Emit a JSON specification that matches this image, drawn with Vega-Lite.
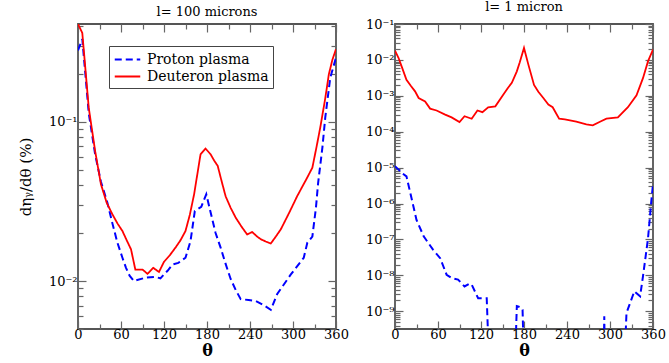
{
  "$schema": "https://vega.github.io/schema/vega-lite/v6.json",
  "padding": {"left": 17, "top": 0, "right": 0, "bottom": 0},
  "datasets": {
    "left": [
      {"theta": 0, "value": 0.28, "series": "Proton plasma"},
      {"theta": 6, "value": 0.33, "series": "Proton plasma"},
      {"theta": 15, "value": 0.113, "series": "Proton plasma"},
      {"theta": 24, "value": 0.062, "series": "Proton plasma"},
      {"theta": 32, "value": 0.042, "series": "Proton plasma"},
      {"theta": 41, "value": 0.031, "series": "Proton plasma"},
      {"theta": 48, "value": 0.023, "series": "Proton plasma"},
      {"theta": 55, "value": 0.0174, "series": "Proton plasma"},
      {"theta": 62, "value": 0.014, "series": "Proton plasma"},
      {"theta": 67, "value": 0.0121, "series": "Proton plasma"},
      {"theta": 72, "value": 0.0108, "series": "Proton plasma"},
      {"theta": 78, "value": 0.0100, "series": "Proton plasma"},
      {"theta": 94, "value": 0.0105, "series": "Proton plasma"},
      {"theta": 108, "value": 0.0106, "series": "Proton plasma"},
      {"theta": 115, "value": 0.0104, "series": "Proton plasma"},
      {"theta": 120, "value": 0.011, "series": "Proton plasma"},
      {"theta": 125, "value": 0.0116, "series": "Proton plasma"},
      {"theta": 132, "value": 0.0127, "series": "Proton plasma"},
      {"theta": 140, "value": 0.013, "series": "Proton plasma"},
      {"theta": 150, "value": 0.014, "series": "Proton plasma"},
      {"theta": 157, "value": 0.0178, "series": "Proton plasma"},
      {"theta": 163, "value": 0.0275, "series": "Proton plasma"},
      {"theta": 172, "value": 0.0292, "series": "Proton plasma"},
      {"theta": 179, "value": 0.035, "series": "Proton plasma"},
      {"theta": 185, "value": 0.027, "series": "Proton plasma"},
      {"theta": 192, "value": 0.02, "series": "Proton plasma"},
      {"theta": 199, "value": 0.0162, "series": "Proton plasma"},
      {"theta": 206, "value": 0.0128, "series": "Proton plasma"},
      {"theta": 213, "value": 0.0103, "series": "Proton plasma"},
      {"theta": 220, "value": 0.0088, "series": "Proton plasma"},
      {"theta": 227, "value": 0.0077, "series": "Proton plasma"},
      {"theta": 238, "value": 0.0076, "series": "Proton plasma"},
      {"theta": 248, "value": 0.0075, "series": "Proton plasma"},
      {"theta": 258, "value": 0.0071, "series": "Proton plasma"},
      {"theta": 269, "value": 0.0066, "series": "Proton plasma"},
      {"theta": 278, "value": 0.0083, "series": "Proton plasma"},
      {"theta": 297, "value": 0.011, "series": "Proton plasma"},
      {"theta": 315, "value": 0.014, "series": "Proton plasma"},
      {"theta": 320, "value": 0.0174, "series": "Proton plasma"},
      {"theta": 327, "value": 0.019, "series": "Proton plasma"},
      {"theta": 332, "value": 0.0288, "series": "Proton plasma"},
      {"theta": 335, "value": 0.041, "series": "Proton plasma"},
      {"theta": 341, "value": 0.0687, "series": "Proton plasma"},
      {"theta": 345, "value": 0.106, "series": "Proton plasma"},
      {"theta": 352, "value": 0.189, "series": "Proton plasma"},
      {"theta": 360, "value": 0.252, "series": "Proton plasma"},
      {"theta": 0, "value": 0.41, "series": "Deuteron plasma"},
      {"theta": 6, "value": 0.36, "series": "Deuteron plasma"},
      {"theta": 15, "value": 0.122, "series": "Deuteron plasma"},
      {"theta": 24, "value": 0.065, "series": "Deuteron plasma"},
      {"theta": 32, "value": 0.0405, "series": "Deuteron plasma"},
      {"theta": 40, "value": 0.031, "series": "Deuteron plasma"},
      {"theta": 48, "value": 0.0262, "series": "Deuteron plasma"},
      {"theta": 55, "value": 0.023, "series": "Deuteron plasma"},
      {"theta": 62, "value": 0.0206, "series": "Deuteron plasma"},
      {"theta": 68, "value": 0.018, "series": "Deuteron plasma"},
      {"theta": 74, "value": 0.0158, "series": "Deuteron plasma"},
      {"theta": 80, "value": 0.0118, "series": "Deuteron plasma"},
      {"theta": 90, "value": 0.0118, "series": "Deuteron plasma"},
      {"theta": 97, "value": 0.0111, "series": "Deuteron plasma"},
      {"theta": 105, "value": 0.0121, "series": "Deuteron plasma"},
      {"theta": 113, "value": 0.0114, "series": "Deuteron plasma"},
      {"theta": 120, "value": 0.0132, "series": "Deuteron plasma"},
      {"theta": 128, "value": 0.0145, "series": "Deuteron plasma"},
      {"theta": 136, "value": 0.0162, "series": "Deuteron plasma"},
      {"theta": 143, "value": 0.018, "series": "Deuteron plasma"},
      {"theta": 150, "value": 0.0206, "series": "Deuteron plasma"},
      {"theta": 156, "value": 0.026, "series": "Deuteron plasma"},
      {"theta": 162, "value": 0.035, "series": "Deuteron plasma"},
      {"theta": 171, "value": 0.0624, "series": "Deuteron plasma"},
      {"theta": 178, "value": 0.0678, "series": "Deuteron plasma"},
      {"theta": 185, "value": 0.0624, "series": "Deuteron plasma"},
      {"theta": 190, "value": 0.057, "series": "Deuteron plasma"},
      {"theta": 195, "value": 0.0527, "series": "Deuteron plasma"},
      {"theta": 200, "value": 0.043, "series": "Deuteron plasma"},
      {"theta": 206, "value": 0.034, "series": "Deuteron plasma"},
      {"theta": 213, "value": 0.0288, "series": "Deuteron plasma"},
      {"theta": 220, "value": 0.025, "series": "Deuteron plasma"},
      {"theta": 228, "value": 0.022, "series": "Deuteron plasma"},
      {"theta": 236, "value": 0.0196, "series": "Deuteron plasma"},
      {"theta": 243, "value": 0.0203, "series": "Deuteron plasma"},
      {"theta": 250, "value": 0.019, "series": "Deuteron plasma"},
      {"theta": 255, "value": 0.0183, "series": "Deuteron plasma"},
      {"theta": 262, "value": 0.0177, "series": "Deuteron plasma"},
      {"theta": 269, "value": 0.0172, "series": "Deuteron plasma"},
      {"theta": 276, "value": 0.019, "series": "Deuteron plasma"},
      {"theta": 283, "value": 0.0211, "series": "Deuteron plasma"},
      {"theta": 295, "value": 0.027, "series": "Deuteron plasma"},
      {"theta": 306, "value": 0.0342, "series": "Deuteron plasma"},
      {"theta": 318, "value": 0.043, "series": "Deuteron plasma"},
      {"theta": 327, "value": 0.0514, "series": "Deuteron plasma"},
      {"theta": 333, "value": 0.07, "series": "Deuteron plasma"},
      {"theta": 338, "value": 0.0917, "series": "Deuteron plasma"},
      {"theta": 345, "value": 0.14, "series": "Deuteron plasma"},
      {"theta": 350, "value": 0.198, "series": "Deuteron plasma"},
      {"theta": 355, "value": 0.245, "series": "Deuteron plasma"},
      {"theta": 360, "value": 0.285, "series": "Deuteron plasma"}
    ],
    "right": [
      {"theta": 0, "value": 1.1e-5, "series": "Proton plasma"},
      {"theta": 5, "value": 8.8e-6, "series": "Proton plasma"},
      {"theta": 10, "value": 7e-6, "series": "Proton plasma"},
      {"theta": 16, "value": 5.7e-6, "series": "Proton plasma"},
      {"theta": 23, "value": 1.42e-6, "series": "Proton plasma"},
      {"theta": 30, "value": 3.5e-7, "series": "Proton plasma"},
      {"theta": 40, "value": 1.22e-7, "series": "Proton plasma"},
      {"theta": 53, "value": 5.2e-8, "series": "Proton plasma"},
      {"theta": 63, "value": 3.0e-8, "series": "Proton plasma"},
      {"theta": 72, "value": 1.04e-8, "series": "Proton plasma"},
      {"theta": 79, "value": 8.4e-9, "series": "Proton plasma"},
      {"theta": 88, "value": 7.6e-9, "series": "Proton plasma"},
      {"theta": 97, "value": 4.9e-9, "series": "Proton plasma"},
      {"theta": 104, "value": 5.9e-9, "series": "Proton plasma"},
      {"theta": 107, "value": 5.5e-9, "series": "Proton plasma"},
      {"theta": 116, "value": 2.3e-9, "series": "Proton plasma"},
      {"theta": 128, "value": 2.3e-9, "series": "Proton plasma"},
      {"theta": 134, "value": 1e-12, "series": "Proton plasma"},
      {"theta": 165, "value": 1e-12, "series": "Proton plasma"},
      {"theta": 170, "value": 1.4e-9, "series": "Proton plasma"},
      {"theta": 175, "value": 1.3e-9, "series": "Proton plasma"},
      {"theta": 178, "value": 1.1e-9, "series": "Proton plasma"},
      {"theta": 182, "value": 1e-12, "series": "Proton plasma"},
      {"theta": 290, "value": 1e-12, "series": "Proton plasma"},
      {"theta": 292, "value": 7.2e-10, "series": "Proton plasma"},
      {"theta": 294, "value": 1e-12, "series": "Proton plasma"},
      {"theta": 317, "value": 1e-12, "series": "Proton plasma"},
      {"theta": 323, "value": 8.9e-10, "series": "Proton plasma"},
      {"theta": 334, "value": 3.6e-9, "series": "Proton plasma"},
      {"theta": 342, "value": 2.6e-9, "series": "Proton plasma"},
      {"theta": 346, "value": 9.3e-9, "series": "Proton plasma"},
      {"theta": 353, "value": 1.05e-7, "series": "Proton plasma"},
      {"theta": 357.6, "value": 1.15e-6, "series": "Proton plasma"},
      {"theta": 360, "value": 3.4e-6, "series": "Proton plasma"},
      {"theta": 0, "value": 0.018, "series": "Deuteron plasma"},
      {"theta": 5, "value": 0.0113, "series": "Deuteron plasma"},
      {"theta": 10, "value": 0.006, "series": "Deuteron plasma"},
      {"theta": 16, "value": 0.0028, "series": "Deuteron plasma"},
      {"theta": 22, "value": 0.0019, "series": "Deuteron plasma"},
      {"theta": 28, "value": 0.00133, "series": "Deuteron plasma"},
      {"theta": 33, "value": 0.00087, "series": "Deuteron plasma"},
      {"theta": 42, "value": 0.0007, "series": "Deuteron plasma"},
      {"theta": 49, "value": 0.00044, "series": "Deuteron plasma"},
      {"theta": 58, "value": 0.00039, "series": "Deuteron plasma"},
      {"theta": 70, "value": 0.0003, "series": "Deuteron plasma"},
      {"theta": 79, "value": 0.00025, "series": "Deuteron plasma"},
      {"theta": 90, "value": 0.000186, "series": "Deuteron plasma"},
      {"theta": 97, "value": 0.00027, "series": "Deuteron plasma"},
      {"theta": 107, "value": 0.00023, "series": "Deuteron plasma"},
      {"theta": 115, "value": 0.00039, "series": "Deuteron plasma"},
      {"theta": 122, "value": 0.00035, "series": "Deuteron plasma"},
      {"theta": 130, "value": 0.00048, "series": "Deuteron plasma"},
      {"theta": 140, "value": 0.00051, "series": "Deuteron plasma"},
      {"theta": 151, "value": 0.00107, "series": "Deuteron plasma"},
      {"theta": 157, "value": 0.0016, "series": "Deuteron plasma"},
      {"theta": 163, "value": 0.0023, "series": "Deuteron plasma"},
      {"theta": 170, "value": 0.0048, "series": "Deuteron plasma"},
      {"theta": 174, "value": 0.0085, "series": "Deuteron plasma"},
      {"theta": 180, "value": 0.0215, "series": "Deuteron plasma"},
      {"theta": 186, "value": 0.0075, "series": "Deuteron plasma"},
      {"theta": 194, "value": 0.002, "series": "Deuteron plasma"},
      {"theta": 200, "value": 0.0013, "series": "Deuteron plasma"},
      {"theta": 207, "value": 0.00087, "series": "Deuteron plasma"},
      {"theta": 214, "value": 0.00057, "series": "Deuteron plasma"},
      {"theta": 220, "value": 0.00048, "series": "Deuteron plasma"},
      {"theta": 229, "value": 0.00023, "series": "Deuteron plasma"},
      {"theta": 237, "value": 0.00022, "series": "Deuteron plasma"},
      {"theta": 253, "value": 0.00019, "series": "Deuteron plasma"},
      {"theta": 267, "value": 0.00016, "series": "Deuteron plasma"},
      {"theta": 276, "value": 0.00015, "series": "Deuteron plasma"},
      {"theta": 286, "value": 0.00019, "series": "Deuteron plasma"},
      {"theta": 295, "value": 0.00023, "series": "Deuteron plasma"},
      {"theta": 311, "value": 0.00025, "series": "Deuteron plasma"},
      {"theta": 325, "value": 0.00048, "series": "Deuteron plasma"},
      {"theta": 337, "value": 0.00103, "series": "Deuteron plasma"},
      {"theta": 346, "value": 0.0031, "series": "Deuteron plasma"},
      {"theta": 353, "value": 0.0091, "series": "Deuteron plasma"},
      {"theta": 360, "value": 0.0194, "series": "Deuteron plasma"}
    ]
  },
  "config": {
    "font": "DejaVu Serif",
    "view": {"stroke": "#555555", "strokeWidth": 1.8},
    "axis": {
      "labelFont": "DejaVu Serif",
      "labelFontSize": 13,
      "labelColor": "#000000",
      "titleFont": "DejaVu Serif",
      "titleColor": "#000000",
      "titleFontWeight": "normal",
      "domain": false,
      "grid": false,
      "tickColor": "#666666",
      "tickWidth": 1.2
    },
    "title": {"font": "DejaVu Serif", "fontSize": 13, "fontWeight": "normal", "offset": 4},
    "legend": {
      "labelFont": "DejaVu Serif",
      "labelFontSize": 14,
      "labelColor": "#000000",
      "symbolType": "M-1.5,0H1.5",
      "symbolSize": 289,
      "symbolStrokeWidth": 2,
      "symbolOffset": 5,
      "labelOffset": 10,
      "strokeColor": "#444444",
      "padding": 4,
      "rowPadding": 0
    }
  },
  "spacing": 14,
  "resolve": {"legend": {"color": "independent", "strokeDash": "independent"}},
  "hconcat": [
    {
      "width": 258,
      "height": 305,
      "title": "l= 100 microns",
      "data": {"name": "left"},
      "layer": [
        {
          "transform": [{"filter": "datum.series == 'Proton plasma'"}],
          "mark": {"type": "line", "strokeWidth": 2, "clip": true},
          "encoding": {
            "x": {
              "field": "theta", "type": "quantitative",
              "scale": {"domain": [0, 360], "nice": false, "zero": false},
              "axis": {
                "orient": "bottom",
                "title": "θ", "titleFontSize": 16, "titleFontWeight": "bold", "titlePadding": 1,
                "values": [0, 30, 60, 90, 120, 150, 180, 210, 240, 270, 300, 330, 360],
                "labelExpr": "datum.value % 60 == 0 ? datum.label : ''",
                "tickSize": {"condition": {"test": "datum.value % 60 == 0", "value": -8}, "value": -5},
                "labelPadding": 7,
                "labelFlush": false
              }
            },
            "y": {
              "field": "value", "type": "quantitative",
              "scale": {"type": "log", "domain": [0.005, 0.41], "nice": false},
              "axis": {
                "orient": "left",
                "title": "dηᵧ/dθ (%)", "titleFontSize": 15, "titlePadding": 15,
                "values": [0.005, 0.006, 0.007, 0.008, 0.009, 0.01, 0.02, 0.03, 0.04, 0.05, 0.06, 0.07, 0.08, 0.09, 0.1, 0.2, 0.3, 0.4],
                "labelExpr": "abs(log(datum.value)/LN10 - round(log(datum.value)/LN10)) < 1e-6 ? '10⁻' + ['⁰','¹','²','³','⁴','⁵','⁶','⁷','⁸','⁹'][-round(log(datum.value)/LN10)] : ''",
                "tickSize": {"condition": {"test": "abs(log(datum.value)/LN10 - round(log(datum.value)/LN10)) < 1e-6", "value": -8}, "value": -5},
                "labelPadding": 9
              }
            },
            "color": {
              "field": "series", "type": "nominal",
              "scale": {"domain": ["Proton plasma", "Deuteron plasma"], "range": ["#0000ff", "#ff0000"]},
              "legend": {"title": null, "orient": "none", "legendX": 31, "legendY": 22}
            },
            "strokeDash": {
              "field": "series", "type": "nominal",
              "scale": {"domain": ["Proton plasma", "Deuteron plasma"], "range": [[7, 4], [1, 0]]},
              "legend": {"title": null, "orient": "none", "legendX": 31, "legendY": 22}
            }
          }
        },
        {
          "transform": [{"filter": "datum.series == 'Deuteron plasma'"}],
          "mark": {"type": "line", "strokeWidth": 1.8, "clip": true},
          "encoding": {
            "x": {
              "field": "theta", "type": "quantitative",
              "scale": {"domain": [0, 360], "nice": false, "zero": false},
              "axis": {
                "orient": "top", "title": null, "labels": false,
                "values": [0, 30, 60, 90, 120, 150, 180, 210, 240, 270, 300, 330, 360],
                "tickSize": {"condition": {"test": "datum.value % 60 == 0", "value": -8}, "value": -5}
              }
            },
            "y": {
              "field": "value", "type": "quantitative",
              "scale": {"type": "log", "domain": [0.005, 0.41], "nice": false},
              "axis": {
                "orient": "right", "title": null, "labels": false,
                "values": [0.005, 0.006, 0.007, 0.008, 0.009, 0.01, 0.02, 0.03, 0.04, 0.05, 0.06, 0.07, 0.08, 0.09, 0.1, 0.2, 0.3, 0.4],
                "tickSize": {"condition": {"test": "abs(log(datum.value)/LN10 - round(log(datum.value)/LN10)) < 1e-6", "value": -8}, "value": -5}
              }
            },
            "color": {
              "field": "series", "type": "nominal",
              "scale": {"domain": ["Proton plasma", "Deuteron plasma"], "range": ["#0000ff", "#ff0000"]},
              "legend": {"title": null, "orient": "none", "legendX": 31, "legendY": 22}
            },
            "strokeDash": {
              "field": "series", "type": "nominal",
              "scale": {"domain": ["Proton plasma", "Deuteron plasma"], "range": [[7, 4], [1, 0]]},
              "legend": {"title": null, "orient": "none", "legendX": 31, "legendY": 22}
            }
          }
        }
      ],
      "resolve": {"axis": {"x": "independent", "y": "independent"}}
    },
    {
      "width": 258,
      "height": 305,
      "title": "l= 1 micron",
      "data": {"name": "right"},
      "layer": [
        {
          "transform": [{"filter": "datum.series == 'Proton plasma'"}],
          "mark": {"type": "line", "strokeWidth": 2, "clip": true, "color": "#0000ff", "strokeDash": [7, 4]},
          "encoding": {
            "x": {
              "field": "theta", "type": "quantitative",
              "scale": {"domain": [0, 360], "nice": false, "zero": false},
              "axis": {
                "orient": "bottom",
                "title": "θ", "titleFontSize": 16, "titleFontWeight": "bold", "titlePadding": 1,
                "values": [0, 30, 60, 90, 120, 150, 180, 210, 240, 270, 300, 330, 360],
                "labelExpr": "datum.value % 60 == 0 ? datum.label : ''",
                "tickSize": {"condition": {"test": "datum.value % 60 == 0", "value": -8}, "value": -5},
                "labelPadding": 7,
                "labelFlush": false
              }
            },
            "y": {
              "field": "value", "type": "quantitative",
              "scale": {"type": "log", "domain": [3.2e-10, 0.1], "nice": false},
              "axis": {
                "orient": "left", "title": null,
                "values": [4e-10, 5e-10, 6e-10, 7e-10, 8e-10, 9e-10, 1e-9, 2e-9, 3e-9, 4e-9, 5e-9, 6e-9, 7e-9, 8e-9, 9e-9, 1e-8, 2e-8, 3e-8, 4e-8, 5e-8, 6e-8, 7e-8, 8e-8, 9e-8, 1e-7, 2e-7, 3e-7, 4e-7, 5e-7, 6e-7, 7e-7, 8e-7, 9e-7, 1e-6, 2e-6, 3e-6, 4e-6, 5e-6, 6e-6, 7e-6, 8e-6, 9e-6, 1e-5, 2e-5, 3e-5, 4e-5, 5e-5, 6e-5, 7e-5, 8e-5, 9e-5, 1e-4, 2e-4, 3e-4, 4e-4, 5e-4, 6e-4, 7e-4, 8e-4, 9e-4, 0.001, 0.002, 0.003, 0.004, 0.005, 0.006, 0.007, 0.008, 0.009, 0.01, 0.02, 0.03, 0.04, 0.05, 0.06, 0.07, 0.08, 0.09, 0.1],
                "labelExpr": "abs(log(datum.value)/LN10 - round(log(datum.value)/LN10)) < 1e-6 ? '10⁻' + ['⁰','¹','²','³','⁴','⁵','⁶','⁷','⁸','⁹'][-round(log(datum.value)/LN10)] : ''",
                "tickSize": {"condition": {"test": "abs(log(datum.value)/LN10 - round(log(datum.value)/LN10)) < 1e-6", "value": -8}, "value": -5},
                "labelPadding": 9,
                "labelFlush": false,
                "labelOverlap": false
              }
            }
          }
        },
        {
          "transform": [{"filter": "datum.series == 'Deuteron plasma'"}],
          "mark": {"type": "line", "strokeWidth": 1.8, "clip": true, "color": "#ff0000"},
          "encoding": {
            "x": {
              "field": "theta", "type": "quantitative",
              "scale": {"domain": [0, 360], "nice": false, "zero": false},
              "axis": {
                "orient": "top", "title": null, "labels": false,
                "values": [0, 30, 60, 90, 120, 150, 180, 210, 240, 270, 300, 330, 360],
                "tickSize": {"condition": {"test": "datum.value % 60 == 0", "value": -8}, "value": -5}
              }
            },
            "y": {
              "field": "value", "type": "quantitative",
              "scale": {"type": "log", "domain": [3.2e-10, 0.1], "nice": false},
              "axis": {
                "orient": "right", "title": null, "labels": false,
                "values": [4e-10, 5e-10, 6e-10, 7e-10, 8e-10, 9e-10, 1e-9, 2e-9, 3e-9, 4e-9, 5e-9, 6e-9, 7e-9, 8e-9, 9e-9, 1e-8, 2e-8, 3e-8, 4e-8, 5e-8, 6e-8, 7e-8, 8e-8, 9e-8, 1e-7, 2e-7, 3e-7, 4e-7, 5e-7, 6e-7, 7e-7, 8e-7, 9e-7, 1e-6, 2e-6, 3e-6, 4e-6, 5e-6, 6e-6, 7e-6, 8e-6, 9e-6, 1e-5, 2e-5, 3e-5, 4e-5, 5e-5, 6e-5, 7e-5, 8e-5, 9e-5, 1e-4, 2e-4, 3e-4, 4e-4, 5e-4, 6e-4, 7e-4, 8e-4, 9e-4, 0.001, 0.002, 0.003, 0.004, 0.005, 0.006, 0.007, 0.008, 0.009, 0.01, 0.02, 0.03, 0.04, 0.05, 0.06, 0.07, 0.08, 0.09, 0.1],
                "tickSize": {"condition": {"test": "abs(log(datum.value)/LN10 - round(log(datum.value)/LN10)) < 1e-6", "value": -8}, "value": -5}
              }
            }
          }
        }
      ],
      "resolve": {"axis": {"x": "independent", "y": "independent"}}
    }
  ]
}
